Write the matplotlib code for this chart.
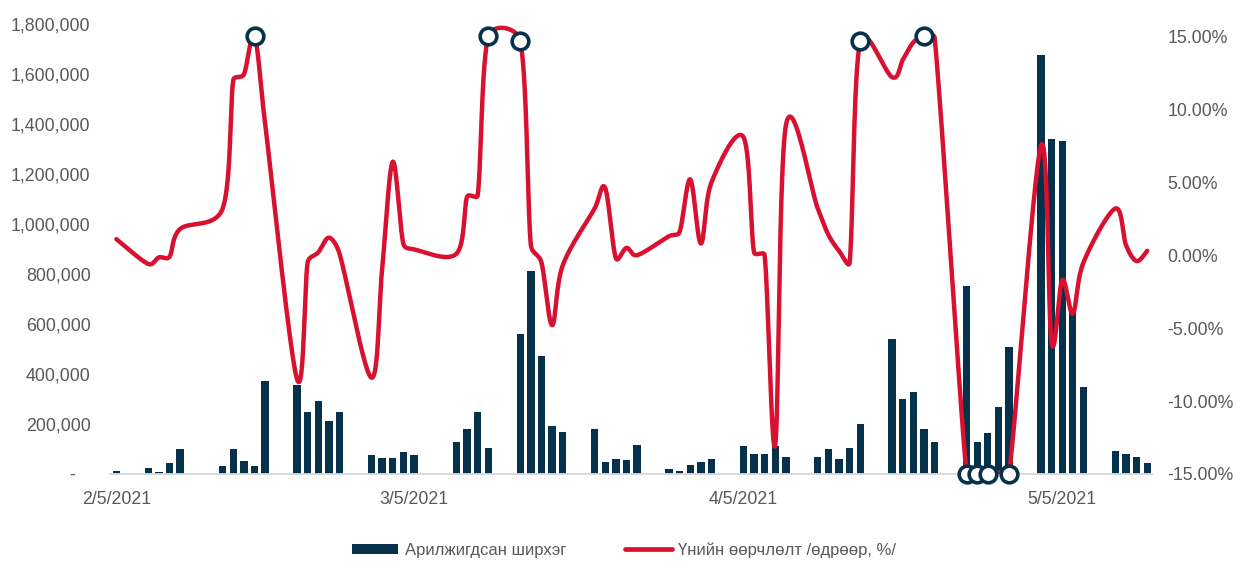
import numpy as np
import matplotlib
matplotlib.use("Agg")
import matplotlib.pyplot as plt
import matplotlib.dates as mdates
from matplotlib.patches import Patch
from matplotlib.lines import Line2D
from matplotlib.ticker import FuncFormatter, FixedLocator
from datetime import date

# Trading days
trade_dates = [
    "2021-02-05", "2021-02-08", "2021-02-09", "2021-02-10", "2021-02-11",
    "2021-02-15", "2021-02-16", "2021-02-17", "2021-02-18", "2021-02-19",
    "2021-02-22", "2021-02-23", "2021-02-24", "2021-02-25", "2021-02-26",
    "2021-03-01", "2021-03-02", "2021-03-03", "2021-03-04", "2021-03-05",
    "2021-03-09", "2021-03-10", "2021-03-11", "2021-03-12",
    "2021-03-15", "2021-03-16", "2021-03-17", "2021-03-18", "2021-03-19",
    "2021-03-22", "2021-03-23", "2021-03-24", "2021-03-25", "2021-03-26",
    "2021-03-29", "2021-03-30", "2021-03-31", "2021-04-01", "2021-04-02",
    "2021-04-05", "2021-04-06", "2021-04-07", "2021-04-08", "2021-04-09",
    "2021-04-12", "2021-04-13", "2021-04-14", "2021-04-15", "2021-04-16",
    "2021-04-19", "2021-04-20", "2021-04-21", "2021-04-22", "2021-04-23",
    "2021-04-26", "2021-04-27", "2021-04-28", "2021-04-29", "2021-04-30",
    "2021-05-03", "2021-05-04", "2021-05-05", "2021-05-06", "2021-05-07",
    "2021-05-10", "2021-05-11", "2021-05-12", "2021-05-13",
]

# Traded quantity (shares)
volume = [
    12000, 25000, 7000, 44000, 99000,
    32000, 99000, 51000, 32000, 373000,
    355000, 248000, 291000, 211000, 248000,
    75000, 63000, 63000, 87000, 75000,
    129000, 179000, 247000, 105000,
    559000, 812000, 471000, 192000, 167000,
    179000, 49000, 61000, 55000, 117000,
    19000, 12000, 37000, 49000, 61000,
    112000, 80000, 80000, 112000, 68000,
    68000, 99000, 61000, 105000, 199000,
    539000, 299000, 329000, 180000, 129000,
    752000, 129000, 163000, 267000, 509000,
    1676000, 1339000, 1333000, 650000, 347000,
    93000, 80000, 68000, 43000,
]

# Daily price change, %
price_change = [
    1.1, -0.6, -0.15, -0.1, 1.8,
    3.2, 12.0, 12.4, 15.0, 9.0,
    -8.5, -0.5, 0.2, 1.2, 0.1,
    -8.4, -1.0, 6.4, 0.8, 0.4,
    0.1, 4.0, 4.1, 15.0,
    14.7, 0.7, -0.5, -4.8, -0.7,
    3.2, 4.6, -0.2, 0.5, 0.0,
    1.3, 1.6, 5.2, 0.8, 5.0,
    8.1, 0.2, 0.0, -13.0, 8.9,
    3.2, 1.4, 0.3, -0.5, 14.7,
    12.2, 13.4, 14.6, 15.0, 14.9,
    -15.0, -15.0, -15.0, -14.9, -15.0,
    7.5, -6.0, -1.7, -4.0, -0.5,
    3.2, 0.7, -0.4, 0.3,
]

# Days on which the price hit the daily limit
limit_days = [
    "2021-02-18", "2021-03-12", "2021-03-15", "2021-04-16", "2021-04-22",
    "2021-04-26", "2021-04-27", "2021-04-28", "2021-04-30",
]

x_ticks = ["2021-02-05", "2021-03-05", "2021-04-05", "2021-05-05"]

bar_label = "Арилжигдсан ширхэг"
line_label = "Үнийн өөрчлөлт /өдрөөр, %/"

NAVY = "#06314B"
RED = "#D7112F"
GREY_TXT = "#595959"

plt.rcParams["font.family"] = ["Liberation Sans", "DejaVu Sans"]


def to_num(ds):
    return mdates.date2num([date.fromisoformat(d) for d in ds])


def smooth_line(xv, yv, sx, sy, k=0.45, steps=40):
    """Bezier smoothing through every point; tangents are shortened on short
    segments so the curve does not loop or overshoot too far.
    sx, sy convert data units to screen pixels."""
    pts = np.column_stack([np.asarray(xv) * sx, np.asarray(yv) * sy]).astype(float)
    n = len(pts)
    tang = np.empty_like(pts)
    for i in range(n):
        a = pts[max(i - 1, 0)]
        b = pts[min(i + 1, n - 1)]
        tang[i] = (b - a) / 6.0
    out = [pts[0]]
    t = np.linspace(0, 1, steps)[1:, None]
    for i in range(n - 1):
        p1, p2 = pts[i], pts[i + 1]
        seg_len = np.hypot(*(p2 - p1))
        lim = k * seg_len
        t1, t2 = tang[i].copy(), tang[i + 1].copy()
        for tv in (t1, t2):
            ln = np.hypot(*tv)
            if ln > lim > 0:
                tv *= lim / ln
        c1 = p1 + t1
        c2 = p2 - t2
        seg = ((1 - t) ** 3) * p1 + 3 * ((1 - t) ** 2) * t * c1 \
            + 3 * (1 - t) * t ** 2 * c2 + t ** 3 * p2
        out.extend(seg)
    out = np.array(out)
    return out[:, 0] / sx, out[:, 1] / sy


xd = to_num(trade_dates)
vol = np.array(volume, dtype=float)
chg = np.array(price_change, dtype=float)

W, H = 1237, 562
fig = plt.figure(figsize=(W / 100, H / 100), dpi=100)
left_px, right_px, top_px, bot_px = 110, 1152, 24, 474
ax = fig.add_axes([left_px / W, 1 - bot_px / H,
                   (right_px - left_px) / W, (bot_px - top_px) / H])

ax.bar(xd, vol, width=0.69, color=NAVY, zorder=2)
ax.set_ylim(0, 1_800_000)
xlim = (xd[0] - 0.6, xd[-1] + 0.45)
ax.set_xlim(*xlim)
ax.yaxis.set_major_locator(FixedLocator(np.arange(0, 1_800_001, 200_000)))
ax.yaxis.set_major_formatter(
    FuncFormatter(lambda v, p: "-   " if v == 0 else f"{v:,.0f}"))

tick_nums = to_num(x_ticks)
ax.set_xticks(tick_nums)
ax.set_xticklabels([f"{d.month}/{d.day}/{d.year}"
                    for d in (date.fromisoformat(s) for s in x_ticks)])

for s in ("top", "left", "right"):
    ax.spines[s].set_visible(False)
ax.spines["bottom"].set_color("#D9D9D9")
ax.spines["bottom"].set_linewidth(1.3)

FS = 12.75
ax.tick_params(axis="y", length=0, pad=14, labelsize=FS, labelcolor=GREY_TXT)
ax.tick_params(axis="x", length=0, pad=12, labelsize=FS, labelcolor=GREY_TXT)

ax2 = ax.twinx()
ylim2 = (-15, 15.85)
ax2.set_ylim(*ylim2)
ax2.set_xlim(*xlim)

px_per_day = (right_px - left_px) / (xlim[1] - xlim[0])
px_per_pct = (bot_px - top_px) / (ylim2[1] - ylim2[0])
cx, cy = smooth_line(xd, chg, px_per_day, px_per_pct)
ax2.plot(cx, cy, color=RED, lw=3.2,
         solid_capstyle="round", solid_joinstyle="round", zorder=3)

lim_idx = [trade_dates.index(d) for d in limit_days]
ax2.plot(xd[lim_idx], chg[lim_idx], linestyle="none", marker="o", ms=12,
         mfc="white", mec=NAVY, mew=2.6, zorder=4, clip_on=False)

ax2.yaxis.set_major_locator(FixedLocator(np.arange(-15, 15.01, 5)))
ax2.yaxis.set_major_formatter(FuncFormatter(lambda v, p: f"{v:.2f}%"))
ax2.tick_params(axis="y", length=0, pad=11, labelsize=FS, labelcolor=GREY_TXT)
for s in ax2.spines.values():
    s.set_visible(False)

handles = [Patch(facecolor=NAVY, edgecolor="none"),
           Line2D([], [], color=RED, lw=3.4, solid_capstyle="round")]
fig.legend(handles, [bar_label, line_label], loc="center",
           bbox_to_anchor=(624 / W, 1 - 550 / H), ncol=2, frameon=False,
           fontsize=12, labelcolor=GREY_TXT, handlelength=2.8,
           handleheight=0.55, handletextpad=0.4, columnspacing=3.5)

fig.savefig("out.png", dpi=100)
